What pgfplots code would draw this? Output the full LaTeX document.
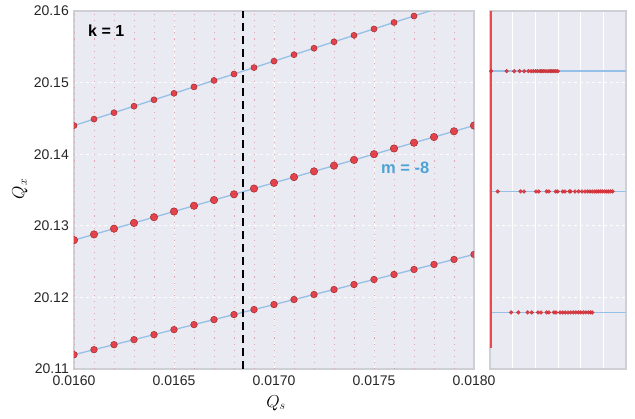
\documentclass[border=0pt]{standalone}
\usepackage{fontspec}
\setmainfont{Liberation Sans}
\usepackage{pgfplots}
\pgfplotsset{compat=1.18}
\definecolor{bg}{HTML}{EAEAF2}
\definecolor{dotred}{HTML}{E8333B}
\definecolor{edgered}{HTML}{9E2A2B}
\definecolor{lineblue}{HTML}{95C0E8}
\definecolor{mblue}{HTML}{4DA3D4}
\definecolor{framegray}{HTML}{CFCFD6}
\definecolor{vdot}{HTML}{DDA6B0}
\begin{document}
\begin{tikzpicture}
\begin{axis}[
  at={(0pt,0pt)}, anchor=south west,
  scale only axis, width=400pt, height=358pt,
  xmin=0.016, xmax=0.018, ymin=20.11, ymax=20.16,
  axis background/.style={fill=bg},
  axis line style={framegray, line width=1.2pt},
  xtick={0.016,0.0165,0.017,0.0175,0.018},
  xticklabels={0.0160,0.0165,0.0170,0.0175,0.0180},
  ytick={20.11,20.12,20.13,20.14,20.15,20.16},
  yticklabels={20.11,20.12,20.13,20.14,20.15,20.16},
  major tick length=0pt,
  tick label style={font=\fontsize{14}{16}\selectfont, text=black!85, inner sep=0pt},
  xticklabel style={anchor=north, yshift=-7pt},
  yticklabel style={anchor=east, xshift=-5pt},
  grid=major, major grid style={white!92!bg, dashed, line width=0.8pt},
  xlabel={$Q_s$}, ylabel={$Q_x$},
  label style={font=\fontsize{18}{20}\selectfont},
  xlabel style={at={(axis description cs:0.505,-0.095)}, anchor=center},
  ylabel style={at={(axis description cs:-0.135,0.503)}, anchor=center},
  clip=true, clip marker paths=true, scaled x ticks=false, scaled y ticks=false,
  unbounded coords=jump,
]
% vertical dotted scan lines
\addplot[vdot, line width=0.8pt, dash pattern=on 1.1pt off 5pt] coordinates {
(0.0160,20.11)(0.0160,20.16)(0.0160,nan)
(0.0161,20.11)(0.0161,20.16)(0.0161,nan)
(0.0162,20.11)(0.0162,20.16)(0.0162,nan)
(0.0163,20.11)(0.0163,20.16)(0.0163,nan)
(0.0164,20.11)(0.0164,20.16)(0.0164,nan)
(0.0165,20.11)(0.0165,20.16)(0.0165,nan)
(0.0166,20.11)(0.0166,20.16)(0.0166,nan)
(0.0167,20.11)(0.0167,20.16)(0.0167,nan)
(0.0168,20.11)(0.0168,20.16)(0.0168,nan)
(0.0169,20.11)(0.0169,20.16)(0.0169,nan)
(0.0170,20.11)(0.0170,20.16)(0.0170,nan)
(0.0171,20.11)(0.0171,20.16)(0.0171,nan)
(0.0172,20.11)(0.0172,20.16)(0.0172,nan)
(0.0173,20.11)(0.0173,20.16)(0.0173,nan)
(0.0174,20.11)(0.0174,20.16)(0.0174,nan)
(0.0175,20.11)(0.0175,20.16)(0.0175,nan)
(0.0176,20.11)(0.0176,20.16)(0.0176,nan)
(0.0177,20.11)(0.0177,20.16)(0.0177,nan)
(0.0178,20.11)(0.0178,20.16)(0.0178,nan)
(0.0179,20.11)(0.0179,20.16)(0.0179,nan)
(0.0180,20.11)(0.0180,20.16)
};
% resonance lines
\addplot[lineblue, line width=1.3pt] coordinates {(0.016,20.144)(0.018,20.162)};
\addplot[lineblue, line width=1.3pt] coordinates {(0.016,20.128)(0.018,20.144)};
\addplot[lineblue, line width=1.3pt] coordinates {(0.016,20.112)(0.018,20.126)};
% tune points
\addplot[only marks, mark=*, mark size=3pt, mark options={fill=dotred, draw=edgered, line width=0.5pt, fill opacity=0.9}] coordinates {
(0.0160,20.1440)(0.0161,20.1449)(0.0162,20.1458)(0.0163,20.1467)(0.0164,20.1476)(0.0165,20.1485)(0.0166,20.1494)(0.0167,20.1503)(0.0168,20.1512)(0.0169,20.1521)(0.0170,20.1530)(0.0171,20.1539)(0.0172,20.1548)(0.0173,20.1557)(0.0174,20.1566)(0.0175,20.1575)(0.0176,20.1584)(0.0177,20.1593)(0.0178,20.1602)
};
\addplot[only marks, mark=*, mark size=3.7pt, mark options={fill=dotred, draw=edgered, line width=0.5pt, fill opacity=0.9}] coordinates {
(0.0160,20.1280)(0.0161,20.1288)(0.0162,20.1296)(0.0163,20.1304)(0.0164,20.1312)(0.0165,20.1320)(0.0166,20.1328)(0.0167,20.1336)(0.0168,20.1344)(0.0169,20.1352)(0.0170,20.1360)(0.0171,20.1368)(0.0172,20.1376)(0.0173,20.1384)(0.0174,20.1392)(0.0175,20.1400)(0.0176,20.1408)(0.0177,20.1416)(0.0178,20.1424)(0.0179,20.1432)(0.0180,20.1440)
};
\addplot[only marks, mark=*, mark size=3.3pt, mark options={fill=dotred, draw=edgered, line width=0.5pt, fill opacity=0.9}] coordinates {
(0.0160,20.1120)(0.0161,20.1127)(0.0162,20.1134)(0.0163,20.1141)(0.0164,20.1148)(0.0165,20.1155)(0.0166,20.1162)(0.0167,20.1169)(0.0168,20.1176)(0.0169,20.1183)(0.0170,20.1190)(0.0171,20.1197)(0.0172,20.1204)(0.0173,20.1211)(0.0174,20.1218)(0.0175,20.1225)(0.0176,20.1232)(0.0177,20.1239)(0.0178,20.1246)(0.0179,20.1253)(0.0180,20.1260)
};
% working point
\addplot[black, line width=1.8pt, dash pattern=on 8pt off 5pt] coordinates {(0.016845,20.11)(0.016845,20.16)};
\node[font=\bfseries\fontsize{16}{18}\selectfont, anchor=west, inner sep=0pt] at (axis cs:0.01607,20.1572) {k = 1};
\node[font=\bfseries\fontsize{16.5}{18}\selectfont, text=mblue, anchor=west, inner sep=0pt] at (axis cs:0.017535,20.1381) {m = -8};
\end{axis}
\begin{axis}[
  at={(416pt,0pt)}, anchor=south west,
  scale only axis, width=136pt, height=358pt,
  xmin=0, xmax=6, ymin=20.11, ymax=20.16,
  axis background/.style={fill=bg},
  axis line style={framegray, line width=1.2pt},
  xtick={1,2,3,4,5}, xticklabels={},
  ytick={20.12,20.13,20.14,20.15}, yticklabels={},
  major tick length=0pt,
  xmajorgrids, ymajorgrids,
  x grid style={white, solid, line width=0.8pt},
  y grid style={white!92!bg, dashed, line width=0.8pt},
  clip=true,
]
\addplot[lineblue, line width=1.6pt] coordinates {(0,20.1516)(6,20.1516)};
\addplot[lineblue, line width=1.6pt] coordinates {(0,20.1348)(6,20.1348)};
\addplot[lineblue, line width=1.6pt] coordinates {(0,20.1179)(6,20.1179)};
\addplot[dotred!90!white, line width=1.8pt] coordinates {(0.05,20.113)(0.05,20.16)};
\addplot[only marks, mark=*, mark size=1.9pt, mark options={fill=dotred, draw=dotred!80!black, line width=0.3pt, fill opacity=0.9}] coordinates {
(0.05,20.1516)(0.735,20.1516)(1.07,20.1516)(1.31,20.1516)(1.51,20.1516)(1.69,20.1516)(1.81,20.1516)(1.91,20.1516)(2.01,20.1516)(2.10,20.1516)(2.21,20.1516)(2.29,20.1516)(2.38,20.1516)(2.47,20.1516)(2.56,20.1516)(2.65,20.1516)(2.73,20.1516)(2.82,20.1516)(2.91,20.1516)(2.99,20.1516)
(0.34,20.1348)(1.35,20.1348)(1.50,20.1348)(2.03,20.1348)(2.15,20.1348)(2.50,20.1348)(2.60,20.1348)(2.90,20.1348)(2.99,20.1348)(3.21,20.1348)(3.31,20.1348)(3.50,20.1348)(3.56,20.1348)(3.75,20.1348)(3.91,20.1348)(4.06,20.1348)(4.19,20.1348)(4.31,20.1348)(4.41,20.1348)(4.51,20.1348)(4.62,20.1348)(4.71,20.1348)(4.79,20.1348)(4.88,20.1348)(4.97,20.1348)(5.06,20.1348)(5.15,20.1348)(5.23,20.1348)(5.32,20.1348)(5.41,20.1348)
(0.93,20.1179)(1.25,20.1179)(1.66,20.1179)(1.84,20.1179)(2.12,20.1179)(2.25,20.1179)(2.50,20.1179)(2.60,20.1179)(2.82,20.1179)(2.91,20.1179)(3.09,20.1179)(3.21,20.1179)(3.32,20.1179)(3.44,20.1179)(3.56,20.1179)(3.68,20.1179)(3.79,20.1179)(3.90,20.1179)(4.00,20.1179)(4.12,20.1179)(4.23,20.1179)(4.34,20.1179)(4.44,20.1179)(4.51,20.1179)
};
\end{axis}
\path (-74pt,-49pt) rectangle (561pt,369pt);
\end{tikzpicture}
\end{document}
